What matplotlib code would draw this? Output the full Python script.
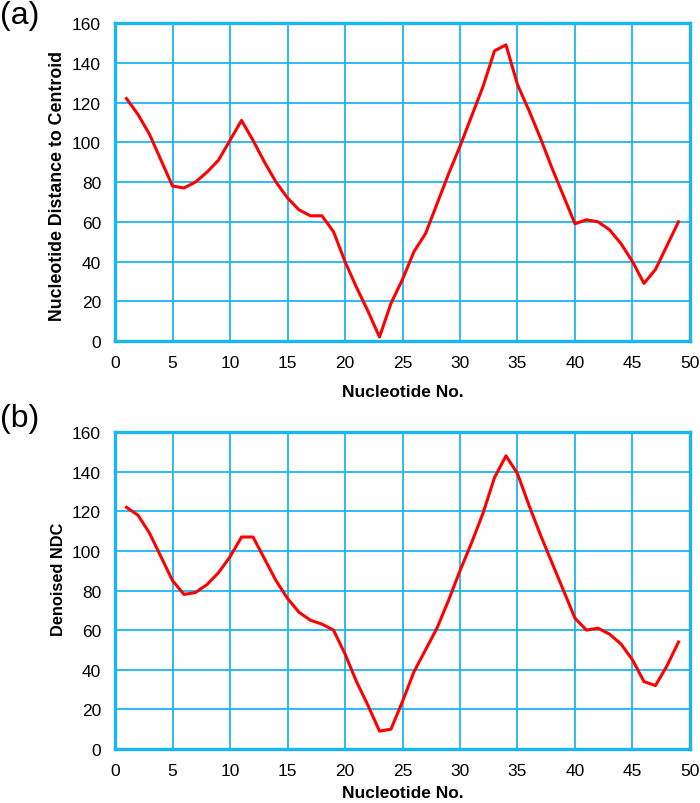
import matplotlib.pyplot as plt
import numpy as np

plt.rcParams['font.family'] = ['Liberation Sans', 'DejaVu Sans']

nucleotide = np.arange(1, 50)
ndc = [122, 114, 104, 91, 78, 77, 80, 85, 91, 101, 111, 101, 90, 80, 72,
       66, 63, 63, 55, 40, 27, 15, 2, 19, 31, 45, 54, 69, 84, 98,
       113, 128, 146, 149, 129, 116, 102, 87, 73, 59, 61, 60, 56, 49, 40,
       29, 36, 48, 60]
denoised = [122, 118, 109, 97, 85, 78, 79, 83, 89, 97, 107, 107, 96, 85, 76,
            69, 65, 63, 60, 48, 34, 22, 9, 10, 24, 39, 50, 61, 75, 90,
            104, 119, 137, 148, 139, 123, 108, 94, 80, 66, 60, 61, 58, 53, 45,
            34, 32, 42, 54]

# tag, values, y label, label size, label centre (axes fraction), axes rect, tag top, xlabel pad
panels = [('(a)', ndc, 'Nucleotide Distance to Centroid', 12.8, 0.49,
           [0.1643, 0.5746, 0.8214, 0.3955], 0.999, 10),
          ('(b)', denoised, 'Denoised NDC', 11.8, 0.54,
           [0.1643, 0.0672, 0.8214, 0.3942], 0.497, 5)]

GRID = '#1BB6F0'

fig = plt.figure(figsize=(7, 8.04), dpi=100)
for tag, vals, ylab, ysize, ypos, rect, tag_y, xpad in panels:
    ax = fig.add_axes(rect)
    ax.plot(nucleotide, vals, color='#FF0000', lw=2.2, zorder=3)
    ax.set_xlim(0, 50)
    ax.set_ylim(0, 160)
    ax.set_xticks(np.arange(0, 51, 5))
    ax.set_yticks(np.arange(0, 161, 20))
    ax.grid(True, color=GRID, lw=1.3)
    for s in ax.spines.values():
        s.set_color(GRID)
        s.set_linewidth(2.4)
    ax.tick_params(length=0, labelsize=12.5, pad=10)
    ax.set_xlabel('Nucleotide No.', fontsize=12.5, fontweight='bold', labelpad=xpad)
    ax.set_ylabel(ylab, fontsize=ysize, fontweight='bold')
    ax.yaxis.set_label_coords(-0.085, ypos)
    fig.text(0.0, tag_y, tag, fontsize=23, va='top', ha='left')

fig.savefig('out.png', dpi=100, facecolor='white')
plt.close()
